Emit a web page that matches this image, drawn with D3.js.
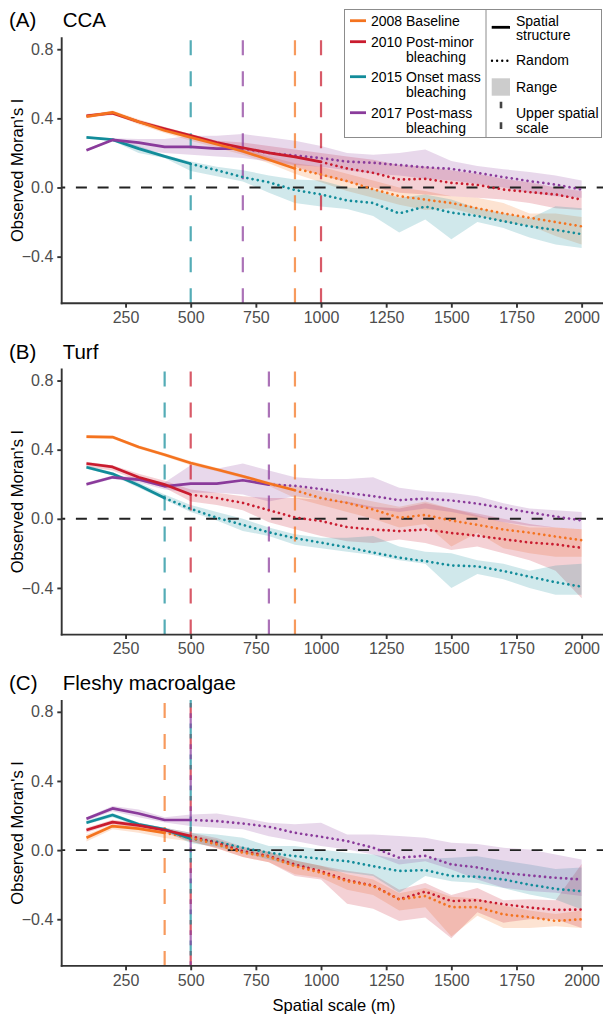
<!DOCTYPE html>
<html>
<head>
<meta charset="utf-8">
<script src="https://cdn.jsdelivr.net/npm/d3@7/dist/d3.min.js"></script>
<style>
  html, body { margin: 0; padding: 0; background: #fff; }
  svg { display: block; font-family: "Liberation Sans", Arial, sans-serif; }
</style>
</head>
<body>
<svg id="chart" width="603" height="1016"></svg>
<script>
// spatial scales (m)
const scales = [100, 200, 300, 400, 500, 600, 700, 800, 900, 1000,
  1100, 1200, 1300, 1400, 1500, 1600, 1700, 1800, 1900, 2000];

const years = ["2008", "2010", "2015", "2017"];
const yearColors = ["#F4731F", "#C91B2E", "#128C9A", "#8A3B9B"];
const legendLabels = [
  ["2008 Baseline"],
  ["2010 Post-minor", "bleaching"],
  ["2015 Onset mass", "bleaching"],
  ["2017 Post-mass", "bleaching"],
];
// order the lines are stacked in (first = bottom)
const drawOrder = [2, 3, 1, 0];

const panelTags = ["(A)", "(B)", "(C)"];
const panelNames = ["CCA", "Turf", "Fleshy macroalgae"];

const xTicks = [250, 500, 750, 1000, 1250, 1500, 1750, 2000];
const yTicks = [-0.4, 0, 0.4, 0.8];

// upper spatial scale per year (2008, 2010, 2015, 2017)
const ccaUpper = [900, 1000, 500, 700];
const turfUpper = [900, 500, 400, 800];
const macroUpper = [400, 500, 500, 500];

// observed Moran's I, one row per year
const ccaMean = [
  [0.41, 0.435, 0.38, 0.33, 0.29, 0.25, 0.21, 0.16, 0.11, 0.075, 0.037, -0.01, -0.05, -0.07, -0.09, -0.12, -0.15, -0.175, -0.2, -0.225],
  [0.415, 0.43, 0.38, 0.34, 0.30, 0.26, 0.23, 0.20, 0.177, 0.148, 0.11, 0.085, 0.046, 0.05, 0.027, 0.015, -0.012, -0.027, -0.04, -0.07],
  [0.29, 0.277, 0.225, 0.18, 0.137, 0.10, 0.06, 0.03, -0.015, -0.04, -0.075, -0.09, -0.15, -0.11, -0.145, -0.165, -0.195, -0.225, -0.245, -0.27],
  [0.215, 0.275, 0.26, 0.235, 0.235, 0.225, 0.225, 0.2, 0.185, 0.17, 0.15, 0.143, 0.13, 0.117, 0.108, 0.085, 0.06, 0.037, 0.017, -0.012],
];
const ccaLow = [
  [0.40, 0.425, 0.365, 0.315, 0.27, 0.23, 0.19, 0.14, 0.08, 0.03, -0.02, -0.06, -0.10, -0.13, -0.12, -0.16, -0.20, -0.22, -0.28, -0.33],
  [0.405, 0.42, 0.37, 0.33, 0.29, 0.25, 0.20, 0.16, 0.12, 0.07, 0.03, 0.0, -0.03, -0.04, -0.05, -0.06, -0.07, -0.09, -0.12, -0.13],
  [0.285, 0.27, 0.20, 0.17, 0.095, 0.065, 0.035, -0.03, -0.09, -0.11, -0.125, -0.165, -0.26, -0.185, -0.30, -0.20, -0.235, -0.29, -0.33, -0.35],
  [0.21, 0.27, 0.22, 0.20, 0.19, 0.18, 0.17, 0.15, 0.13, 0.12, 0.10, 0.08, 0.07, 0.05, 0.04, 0.02, 0.0, -0.03, -0.05, -0.06],
];
const ccaHigh = [
  [0.42, 0.445, 0.395, 0.35, 0.31, 0.27, 0.23, 0.18, 0.14, 0.12, 0.08, 0.04, 0.0, -0.02, -0.05, -0.06, -0.09, -0.15, -0.15, -0.17],
  [0.425, 0.44, 0.39, 0.35, 0.31, 0.27, 0.26, 0.24, 0.22, 0.20, 0.18, 0.16, 0.13, 0.12, 0.10, 0.08, 0.05, 0.03, 0.0, -0.02],
  [0.295, 0.285, 0.24, 0.19, 0.15, 0.12, 0.10, 0.07, 0.046, 0.04, 0.0, -0.01, -0.06, -0.04, -0.07, -0.12, -0.15, -0.18, -0.108, -0.12],
  [0.22, 0.285, 0.28, 0.28, 0.30, 0.30, 0.31, 0.29, 0.27, 0.24, 0.20, 0.19, 0.20, 0.22, 0.154, 0.125, 0.106, 0.09, 0.07, 0.04],
];

const turfMean = [
  [0.475, 0.473, 0.415, 0.371, 0.323, 0.285, 0.246, 0.204, 0.165, 0.12, 0.092, 0.054, 0.006, 0.022, -0.01, -0.035, -0.062, -0.08, -0.103, -0.124],
  [0.32, 0.30, 0.24, 0.198, 0.14, 0.12, 0.092, 0.05, 0.008, -0.013, -0.048, -0.062, -0.071, -0.062, -0.082, -0.098, -0.118, -0.137, -0.148, -0.168],
  [0.298, 0.26, 0.194, 0.12, 0.058, 0.006, -0.035, -0.078, -0.112, -0.138, -0.165, -0.195, -0.225, -0.245, -0.27, -0.275, -0.302, -0.335, -0.367, -0.393],
  [0.2, 0.24, 0.227, 0.188, 0.204, 0.204, 0.223, 0.198, 0.191, 0.172, 0.15, 0.131, 0.108, 0.117, 0.106, 0.088, 0.062, 0.037, 0.013, -0.009],
];
const turfLow = [
  [0.465, 0.463, 0.405, 0.36, 0.31, 0.275, 0.235, 0.19, 0.12, 0.08, 0.04, 0.0, -0.05, -0.03, -0.16, -0.08, -0.17, -0.20, -0.22, -0.22],
  [0.30, 0.28, 0.22, 0.18, 0.10, 0.08, 0.05, -0.02, -0.06, -0.10, -0.13, -0.14, -0.12, -0.14, -0.18, -0.16, -0.20, -0.24, -0.30, -0.46],
  [0.29, 0.25, 0.18, 0.11, 0.04, -0.01, -0.07, -0.10, -0.15, -0.17, -0.19, -0.21, -0.24, -0.26, -0.40, -0.32, -0.35, -0.40, -0.44, -0.44],
  [0.19, 0.23, 0.21, 0.17, 0.15, 0.15, 0.14, 0.10, 0.13, 0.11, 0.09, 0.06, 0.04, 0.06, 0.04, 0.01, -0.02, -0.04, -0.05, -0.06],
];
const turfHigh = [
  [0.48, 0.48, 0.425, 0.38, 0.335, 0.295, 0.255, 0.215, 0.19, 0.16, 0.13, 0.10, 0.07, 0.10, 0.06, 0.02, -0.02, -0.05, -0.05, -0.06],
  [0.33, 0.31, 0.26, 0.22, 0.17, 0.15, 0.13, 0.12, 0.12, 0.11, 0.10, 0.07, 0.06, 0.09, 0.06, 0.03, 0.0, -0.03, -0.05, -0.06],
  [0.31, 0.27, 0.21, 0.14, 0.08, 0.04, 0.0, -0.05, -0.09, -0.11, -0.11, -0.10, -0.16, -0.19, -0.20, -0.24, -0.26, -0.30, -0.27, -0.26],
  [0.21, 0.25, 0.24, 0.21, 0.31, 0.29, 0.32, 0.28, 0.24, 0.23, 0.23, 0.24, 0.18, 0.16, 0.15, 0.13, 0.09, 0.06, 0.05, 0.04],
];

const macroMean = [
  [0.071, 0.139, 0.124, 0.1, 0.071, 0.033, -0.015, -0.039, -0.093, -0.131, -0.18, -0.208, -0.285, -0.266, -0.33, -0.33, -0.372, -0.388, -0.41, -0.40],
  [0.116, 0.162, 0.143, 0.116, 0.081, 0.042, -0.006, -0.035, -0.083, -0.122, -0.174, -0.205, -0.285, -0.24, -0.295, -0.29, -0.313, -0.332, -0.346, -0.344],
  [0.158, 0.203, 0.149, 0.12, 0.066, 0.048, 0.013, -0.015, -0.035, -0.05, -0.064, -0.093, -0.121, -0.116, -0.15, -0.154, -0.17, -0.2, -0.224, -0.238],
  [0.181, 0.241, 0.212, 0.174, 0.174, 0.168, 0.154, 0.135, 0.10, 0.077, 0.052, 0.014, -0.044, -0.033, -0.083, -0.1, -0.131, -0.147, -0.16, -0.17],
];
const macroLow = [
  [0.05, 0.12, 0.10, 0.07, 0.05, 0.01, -0.04, -0.07, -0.14, -0.16, -0.23, -0.26, -0.35, -0.33, -0.50, -0.38, -0.45, -0.45, -0.44, -0.45],
  [0.10, 0.15, 0.13, 0.10, 0.05, 0.01, -0.04, -0.07, -0.15, -0.17, -0.31, -0.34, -0.41, -0.39, -0.51, -0.36, -0.42, -0.40, -0.40, -0.45],
  [0.15, 0.19, 0.14, 0.11, 0.04, 0.02, -0.015, -0.054, -0.093, -0.112, -0.13, -0.15, -0.247, -0.15, -0.18, -0.19, -0.22, -0.257, -0.286, -0.343],
  [0.17, 0.225, 0.19, 0.16, 0.139, 0.13, 0.12, 0.08, 0.052, 0.023, 0.004, -0.025, -0.083, -0.064, -0.112, -0.17, -0.218, -0.237, -0.247, -0.266],
];
const macroHigh = [
  [0.09, 0.15, 0.14, 0.12, 0.09, 0.06, 0.01, -0.01, -0.06, -0.09, -0.14, -0.17, -0.25, -0.22, -0.27, -0.28, -0.32, -0.35, -0.37, -0.35],
  [0.13, 0.175, 0.155, 0.13, 0.10, 0.07, 0.02, -0.01, -0.06, -0.09, -0.12, -0.14, -0.23, -0.19, -0.26, -0.22, -0.29, -0.285, -0.29, -0.08],
  [0.17, 0.215, 0.16, 0.13, 0.10, 0.09, 0.071, 0.023, 0.023, 0.004, -0.015, -0.025, -0.054, -0.05, -0.044, -0.035, -0.06, -0.083, -0.11, -0.10],
  [0.19, 0.255, 0.235, 0.19, 0.206, 0.212, 0.187, 0.158, 0.149, 0.158, 0.09, 0.09, 0.081, 0.071, 0.042, 0.035, 0.013, 0.004, -0.025, -0.054],
];

const panels = [
  { mean: ccaMean, low: ccaLow, high: ccaHigh, upper: ccaUpper },
  { mean: turfMean, low: turfLow, high: turfHigh, upper: turfUpper },
  { mean: macroMean, low: macroLow, high: macroHigh, upper: macroUpper },
];

const PLOT = { left: 61.7, right: 606.4, height: 266, tops: [37.3, 368.6, 699.9] };
const AXIS_COLOR = "#333333";
const TICK_TEXT = "#4D4D4D";

const svg = d3.select("#chart");

const x = d3.scaleLinear().domain([5, 2095]).range([PLOT.left, PLOT.right]);
const formatTick = (v) => (v < 0 ? "\u2212" : "") + Math.abs(v).toFixed(1);

panels.forEach((panel, p) => {
  const top = PLOT.tops[p];
  const bottom = top + PLOT.height;
  const y = d3.scaleLinear().domain([-0.670, 0.869]).range([bottom, top]);
  const g = svg.append("g");

  // ranges
  const area = d3.area()
    .x((d) => x(d.s))
    .y0((d) => y(d.lo))
    .y1((d) => y(d.hi));
  years.forEach((yr, i) => {
    const rows = scales.map((s, k) => ({ s, lo: panel.low[i][k], hi: panel.high[i][k] }));
    g.append("path")
      .attr("d", area(rows))
      .attr("fill", yearColors[i])
      .attr("fill-opacity", 0.2)
      .attr("stroke", "none");
  });

  // upper spatial scale markers (shared scales get staggered dashes)
  years.forEach((yr, i) => {
    const shared = panel.upper.slice(0, i).filter((u) => u === panel.upper[i]).length;
    g.append("line")
      .attr("x1", x(panel.upper[i]))
      .attr("x2", x(panel.upper[i]))
      .attr("y1", bottom)
      .attr("y2", top)
      .attr("stroke", yearColors[i])
      .attr("stroke-opacity", 0.72)
      .attr("stroke-width", 2.2)
      .attr("stroke-dasharray", "15 16")
      .attr("stroke-dashoffset", -shared * 10.3);
  });

  // zero reference
  g.append("line")
    .attr("x1", PLOT.left)
    .attr("x2", PLOT.right)
    .attr("y1", y(0))
    .attr("y2", y(0))
    .attr("stroke", "#222")
    .attr("stroke-width", 1.9)
    .attr("stroke-dasharray", "11 10.7")
    .attr("stroke-dashoffset", 7.5);

  // lines: solid up to the upper spatial scale, dotted beyond
  const line = d3.line().x((d) => x(d.s)).y((d) => y(d.v));
  drawOrder.forEach((i) => {
    const rows = scales.map((s, k) => ({ s, v: panel.mean[i][k] }));
    g.append("path")
      .attr("d", line(rows.filter((d) => d.s >= panel.upper[i])))
      .attr("fill", "none")
      .attr("stroke", yearColors[i])
      .attr("stroke-width", 2.7)
      .attr("stroke-linecap", "round")
      .attr("stroke-dasharray", "0.01 5.3");
  });
  drawOrder.forEach((i) => {
    const rows = scales.map((s, k) => ({ s, v: panel.mean[i][k] }));
    g.append("path")
      .attr("d", line(rows.filter((d) => d.s <= panel.upper[i])))
      .attr("fill", "none")
      .attr("stroke", yearColors[i])
      .attr("stroke-width", 2.7)
      .attr("stroke-linejoin", "round");
  });

  // axes
  const xAxis = g.append("g")
    .attr("transform", `translate(0,${bottom})`)
    .call(d3.axisBottom(x).tickValues(xTicks).tickFormat(d3.format("d"))
      .tickSize(4.4).tickPadding(4).tickSizeOuter(0));
  const yAxis = g.append("g")
    .attr("transform", `translate(${PLOT.left},0)`)
    .call(d3.axisLeft(y).tickValues(yTicks).tickFormat(formatTick)
      .tickSize(4.4).tickPadding(4).tickSizeOuter(0));
  [xAxis, yAxis].forEach((ax) => {
    ax.select(".domain").attr("stroke", AXIS_COLOR).attr("stroke-width", 1.9);
    ax.selectAll(".tick line").attr("stroke", AXIS_COLOR).attr("stroke-width", 1.9);
    ax.selectAll(".tick text")
      .attr("fill", TICK_TEXT)
      .style("font-family", "'Liberation Sans', Arial, sans-serif")
      .style("font-size", "16px");
  });
  yAxis.select(".domain").attr("d", `M0,${bottom + 0.95}V${top}`);
  xAxis.select(".domain").attr("d", `M${PLOT.left - 0.95},0H${PLOT.right}`);

  // panel titles
  g.append("text")
    .attr("x", 9)
    .attr("y", top - 10)
    .attr("font-size", 20.5)
    .attr("fill", "#000")
    .text(panelTags[p]);
  g.append("text")
    .attr("x", 62.7)
    .attr("y", top - 10)
    .attr("font-size", 20.5)
    .attr("fill", "#000")
    .text(panelNames[p]);

  // y axis title
  g.append("text")
    .attr("transform", `translate(22.5,${(top + bottom) / 2}) rotate(-90)`)
    .attr("text-anchor", "middle")
    .attr("font-size", 16.5)
    .attr("fill", "#000")
    .text("Observed Moran's I");
});

// x axis title
svg.append("text")
  .attr("x", (PLOT.left + PLOT.right) / 2)
  .attr("y", 1011)
  .attr("text-anchor", "middle")
  .attr("font-size", 16.5)
  .attr("fill", "#000")
  .text("Spatial scale (m)");

// legend
const legend = svg.append("g");
legend.append("rect")
  .attr("x", 344.5).attr("y", 9.5)
  .attr("width", 257).attr("height", 128)
  .attr("fill", "#fff")
  .attr("stroke", "#8c8c8c")
  .attr("stroke-width", 1);
legend.append("line")
  .attr("x1", 486).attr("x2", 486)
  .attr("y1", 9.5).attr("y2", 137.5)
  .attr("stroke", "#8c8c8c").attr("stroke-width", 1);

const keyRows = [20.7, 41.7, 76.7, 112.7];
legendLabels.forEach((lines, i) => {
  const cy = keyRows[i];
  legend.append("line")
    .attr("x1", 350).attr("x2", 366)
    .attr("y1", cy).attr("y2", cy)
    .attr("stroke", yearColors[i]).attr("stroke-width", 2.8);
  lines.forEach((txt, j) => {
    legend.append("text")
      .attr("x", j === 0 ? 371 : 406)
      .attr("y", cy + 5 + j * 15)
      .attr("font-size", 14)
      .attr("fill", "#000")
      .text(txt);
  });
});

// linetype keys
legend.append("line")
  .attr("x1", 491.7).attr("x2", 510)
  .attr("y1", 27.3).attr("y2", 27.3)
  .attr("stroke", "#000").attr("stroke-width", 2.8);
legend.append("line")
  .attr("x1", 492).attr("x2", 511)
  .attr("y1", 60.7).attr("y2", 60.7)
  .attr("stroke", "#000").attr("stroke-width", 2.4)
  .attr("stroke-linecap", "round")
  .attr("stroke-dasharray", "0.01 5.1");
legend.append("rect")
  .attr("x", 491.7).attr("y", 78.3)
  .attr("width", 18.3).attr("height", 17.4)
  .attr("fill", "#CCCCCC");
legend.append("line")
  .attr("x1", 501).attr("x2", 501)
  .attr("y1", 101.7).attr("y2", 129)
  .attr("stroke", "#444").attr("stroke-width", 2.6)
  .attr("stroke-dasharray", "6.6 14");

const typeLabels = [
  ["Spatial", 25.7], ["structure", 40.3], ["Random", 65], ["Range", 91.7],
  ["Upper spatial", 117.7], ["scale", 132.7],
];
typeLabels.forEach(([txt, yy]) => {
  legend.append("text")
    .attr("x", 516)
    .attr("y", yy)
    .attr("font-size", 14)
    .attr("fill", "#000")
    .text(txt);
});
</script>
</body>
</html>
